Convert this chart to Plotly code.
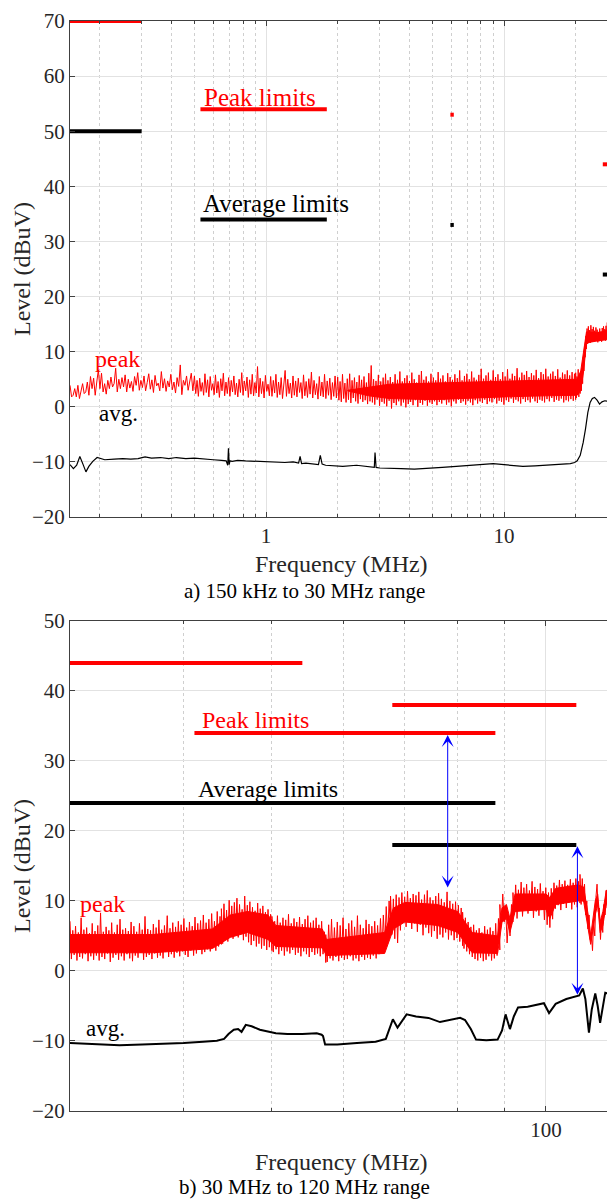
import numpy as np
import plotly.graph_objects as go

FONT = "Liberation Serif"
RED = "#ff0000"
BLUE = "#0000ff"

# ---------------- a) 150 kHz to 30 MHz ----------------
# peak detector levels (dBuV), one list per sweep segment
peak_a_edges = [0.15, 0.5, 2.0, 20.0, 28.7]
peak_a1 = [3.9, 1.8, 2.1, 3.3, 1.8, 3.9, 1.5, 3.0, 4.2, 2.4, 2.7, 4.5, 2.1, 5.5, 3.3, 5.2, 2.1, 4.5, 6.7, 3.3,
           6.1, 2.7, 4.2, 2.3, 4.8, 3.3, 5.4, 3.6, 4.2, 7.0, 2.7, 5.0, 3.3, 5.3, 3.6, 5.8, 2.7, 5.0, 3.4, 4.6,
           2.8, 5.5, 3.9, 6.2, 3.0, 4.8, 3.5, 5.6, 2.9, 4.4, 6.0, 3.2, 4.9, 2.6, 5.7, 3.8, 4.3, 2.9, 6.4, 3.4,
           5.1, 2.8, 4.7, 3.6, 5.9, 3.1, 4.5, 2.5, 5.3, 3.7, 7.6, 2.2, 4.8, 3.9, 5.6, 3.0, 4.4, 6.1, 2.9, 4.9]
peak_a2 = [5.6, 2.4, 4.8, 1.9, 5.2, 2.8, 4.4, 2.1, 6.0, 2.6, 4.9, 1.8, 5.5, 3.0, 4.2, 2.2, 5.8, 2.5, 4.6, 1.7,
           5.1, 2.9, 6.1, 2.0, 4.5, 2.4, 5.3, 1.9, 4.8, 2.7, 5.6, 2.2, 4.3, 1.8, 5.0, 2.6, 6.2, 2.1, 4.7, 2.9,
           5.4, 1.7, 4.9, 2.3, 5.9, 2.0, 4.4, 2.5, 7.3, 1.8, 5.2, 2.4, 4.6, 1.6, 5.7, 2.8, 4.1, 2.0, 5.5, 1.9,
           4.8, 2.5, 5.9, 1.7, 4.5, 2.2, 5.3, 1.5, 4.9, 6.6, 1.9, 5.0, 2.4, 4.3, 1.6, 5.6, 2.1, 4.7, 1.8, 5.2,
           2.6, 4.4, 1.5, 5.8, 2.0, 4.6, 1.7, 5.1, 2.3, 6.3, 1.6, 4.8, 2.2, 4.2, 1.4, 5.5, 2.0, 4.5, 1.8, 5.9,
           1.5, 4.7, 2.1, 5.2, 1.3, 4.4, 1.9, 5.6, 1.6, 4.9]
peak_a3 = [5.4, 1.2, 4.6, 0.9, 5.9, 1.5, 4.3, 0.8, 5.1, 1.3, 6.0, 0.7, 4.8, 1.6, 5.3, 1.0, 4.5, 0.6, 5.7, 1.4,
           4.9, 0.9, 5.5, 1.2, 4.4, 0.5, 6.1, 1.0, 7.5, 0.8, 5.0, 0.4, 4.7, 1.3, 5.8, 0.2, 4.6, 0.9, 5.3, 0.6,
           6.0, 0.1, 4.8, 1.1, 5.4, -0.3, 4.5, 0.7, 5.9, 0.3, 4.9, 1.0, 6.4, 0.2, 4.6, 0.8, 5.2, -0.1, 5.7, 0.5,
           4.7, 0.9, 6.2, 0.3, 5.0, 1.2, 4.4, 0.0, 5.8, 0.7, 6.5, 0.4, 4.9, 1.1, 5.5, 0.2, 4.6, 0.8, 6.0, 0.5,
           5.3, 1.0, 4.8, 0.3, 6.3, 0.9, 5.1, 0.6, 5.7, 1.2, 4.6, 0.4, 6.1, 0.8, 5.4, 0.1, 4.9, 1.0, 5.9, 0.6,
           5.2, 1.3, 6.6, 0.7, 4.8, 1.0, 5.6, 0.4, 6.0, 1.1, 5.0, 0.8, 6.4, 0.3, 5.3, 1.2, 4.9, 0.6, 5.8, 1.0,
           6.9, 0.7, 5.1, 1.3, 5.7, 0.5, 6.2, 1.0, 4.9, 0.8, 6.6, 1.4, 5.4, 0.6, 5.9, 1.1, 5.0, 0.9, 6.3, 0.4,
           5.5, 1.2, 6.8, 0.9, 5.1, 1.5, 6.0, 0.7, 5.6, 1.3, 7.0, 1.0, 5.3, 0.6, 6.2, 1.4, 5.8, 0.9, 6.5, 1.2,
           5.4, 0.8, 6.1, 1.5, 5.7, 1.0, 6.7, 0.7, 5.2, 1.3, 6.3, 1.1, 5.9, 0.8, 6.9, 1.4, 5.5, 1.0, 6.0, 1.6,
           6.4, 0.9, 5.6, 1.3, 6.8, 1.1, 5.3, 1.5, 6.2, 0.8, 5.9, 1.2, 6.6, 1.0, 5.7, 1.4, 6.3, 1.1, 6.0, 1.3]
peak_a4 = [6.2, 1.6, 5.5, 2.2, 6.8, 1.8, 5.9, 2.4, 6.5, 2.9, 7.0, 4.2, 9.0, 6.5, 11.0, 9.0, 12.8, 10.5, 14.2, 11.4,
           14.6, 12.0, 13.9, 11.6, 14.8, 12.3, 14.1, 11.8, 14.5, 12.5, 13.8, 12.0, 14.4, 12.6, 14.0, 11.7, 13.6, 11.9, 14.2, 12.4,
           13.7, 11.8, 14.3, 12.2, 14.6, 12.6, 14.1, 12.0, 14.7, 12.3, 15.3, 12.5, 14.8, 11.0, 13.5, 9.0, 10.5, 6.5, 5.0, 2.8]

# solid core of the peak trace where the sweep is dense
core_a_f = [2.2, 2.7, 3.3, 5.0, 10.0, 15.0, 20.3, 21.0, 21.6, 22.2, 25.0, 27.4, 28.0, 28.4]
core_a_lo = [2.9, 2.0, 1.5, 1.3, 1.8, 2.0, 2.1, 3.0, 6.5, 11.6, 12.0, 12.2, 9.5, 5.0]
core_a_hi = [3.0, 3.6, 4.1, 4.3, 4.6, 4.8, 5.0, 6.5, 10.0, 13.6, 13.4, 14.0, 12.0, 7.5]

# average detector
avg_a_f = [0.150, 0.155, 0.160, 0.165, 0.170, 0.175, 0.180, 0.187, 0.195, 0.21, 0.23, 0.25, 0.27, 0.29, 0.31,
           0.33, 0.36, 0.39, 0.42, 0.46, 0.50, 0.55, 0.60, 0.65, 0.68, 0.69, 0.695, 0.70, 0.705, 0.72, 0.76,
           0.82, 0.90, 1.0, 1.1, 1.2, 1.3, 1.37, 1.39, 1.41, 1.47, 1.52, 1.60, 1.66, 1.69, 1.72, 1.78, 1.9, 2.1,
           2.4, 2.7, 2.85, 2.87, 2.90, 3.0, 3.3, 3.7, 4.2, 4.8, 5.5, 6.3, 7.2, 8.2, 9.0, 10.0, 11.0, 12.0, 13.5,
           15.0, 16.5, 18.0, 19.0, 19.8, 20.3, 20.9, 21.5, 22.0, 22.5, 23.0, 23.5, 24.0, 24.6, 25.2, 25.8, 26.5,
           27.3, 27.7, 28.0, 28.3, 28.7]
avg_a = [-10.5, -11.2, -10.6, -9.0, -10.4, -11.8, -10.8, -9.9, -9.2, -9.6, -9.5, -9.4, -9.5, -9.4, -9.1,
         -9.3, -9.2, -9.4, -9.2, -9.4, -9.3, -9.5, -9.6, -9.7, -9.8, -10.6, -7.5, -10.5, -9.8, -9.9, -9.7,
         -9.8, -9.9, -10.0, -10.0, -10.1, -10.0, -10.2, -9.0, -10.3, -10.2, -10.3, -10.4, -10.5, -8.8, -10.4,
         -10.6, -10.7, -10.8, -10.6, -10.9, -11.0, -8.3, -11.0, -11.1, -11.2, -11.2, -11.3, -11.2, -11.0,
         -10.8, -10.6, -10.4, -10.3, -10.5, -10.7, -10.8, -10.7, -10.6, -10.4, -10.4, -10.3, -10.1, -9.8,
         -8.8, -6.5, -4.0, -1.0, 0.8, 1.5, 1.7, 1.2, 0.5, 0.9, 1.1, 1.0, -1.0, -4.5, -7.0, -9.0]

# limit lines: start freq, stop freq, level
lim_a_f0 = [0.15, 0.53, 5.95, 26.0]
lim_a_f1 = [0.30, 1.80, 6.15, 27.8]
lim_a_peak = [70, 54, 53, 44]
lim_a_avg = [50, 34, 33, 24]

# ---------------- b) 30 MHz to 120 MHz ----------------
peak_b_edges = [30, 44, 50, 57.3, 67.5, 81, 89, 92, 109, 118.5]
peak_b1 = [7.1, 1.7, 5.8, 2.3, 6.4, 1.5, 5.5, 2.0, 7.6, 1.8, 5.9, 2.4, 6.2, 1.4, 5.4, 2.1, 6.8, 1.6, 5.7, 2.2,
           6.5, 1.5, 8.3, 2.0, 5.6, 1.7, 6.3, 2.5, 5.8, 1.3, 6.9, 1.9, 5.5, 2.3, 6.6, 1.6, 7.4, 2.1, 5.9, 1.5,
           6.1, 2.4, 5.7, 1.8, 7.0, 1.4, 6.4, 2.2, 5.6, 1.9, 6.8, 2.6, 5.9, 1.6, 7.8, 2.0, 6.0, 2.3, 5.8, 1.7,
           6.7, 2.5, 6.2, 1.9, 7.3, 2.2, 5.9, 1.8, 6.5, 2.7, 7.9, 2.0, 6.1, 2.4, 6.9, 1.9, 6.3, 2.6, 7.1, 2.1,
           6.6, 2.8, 7.5, 2.3, 6.2, 2.0, 7.0, 2.9, 6.4, 2.2, 7.7, 2.5, 6.8, 3.0, 7.2, 2.4, 8.0, 2.7, 6.9, 3.1,
           7.4, 2.8, 8.2, 3.3, 7.1, 2.9, 8.5, 3.5, 7.8, 3.8]
peak_b2 = [8.9, 3.9, 9.6, 4.5, 8.7, 4.2, 10.1, 5.0, 9.3, 4.6, 9.8, 5.3, 10.4, 4.8, 9.5, 5.5, 8.8, 4.4, 10.7, 4.9,
           9.4, 4.1, 9.9, 3.7, 9.1, 4.3, 8.6, 3.5, 9.7, 3.9, 8.9, 3.2, 9.3, 3.6, 8.4, 3.0, 8.8, 3.4, 8.1, 2.9]
peak_b3 = [7.8, 2.7, 7.1, 3.1, 7.9, 2.4, 6.9, 2.9, 7.6, 2.2, 7.3, 2.8, 8.1, 2.5, 6.8, 3.0, 7.5, 2.3, 7.0, 2.6,
           7.7, 2.1, 6.7, 2.8, 7.4, 2.4, 7.9, 2.0, 6.9, 2.7, 7.2, 2.3, 7.6, 2.5, 6.6, 2.1, 7.1, 2.4, 5.6, 1.2]
peak_b4 = [5.2, 1.3, 6.6, 1.8, 7.4, 1.5, 6.2, 2.0, 7.0, 1.4, 6.5, 1.9, 7.6, 1.6, 6.0, 1.7, 6.8, 2.1, 7.2, 1.5,
           6.3, 1.8, 7.9, 1.4, 6.6, 2.0, 6.1, 1.6, 7.3, 1.9, 6.7, 1.7, 6.4, 2.2, 7.1, 1.8, 6.5, 2.4, 7.5, 2.6,
           8.0, 3.5, 9.2, 4.5, 10.0, 5.5]
peak_b5 = [10.7, 5.2, 10.3, 4.6, 10.9, 4.0, 10.5, 5.8, 11.2, 6.9, 10.6, 6.3, 11.4, 7.2, 10.4, 6.0, 11.0, 6.8, 10.8, 5.6,
           11.3, 6.6, 10.2, 5.1, 10.9, 6.2, 11.5, 5.4, 10.5, 4.9, 10.1, 5.7, 10.7, 4.6, 11.1, 5.2, 10.3, 4.8, 9.8, 5.5,
           11.3, 4.5, 10.0, 5.1, 9.6, 4.4, 9.9, 4.7, 9.4, 4.2, 9.0, 3.6]
peak_b6 = [8.4, 3.2, 7.6, 2.8, 7.0, 2.4, 6.3, 2.0, 6.6, 1.7, 5.8, 1.5, 6.1, 1.9, 5.5, 1.4, 6.4, 1.6, 5.9, 2.1,
           6.2, 1.5, 5.7, 1.8, 6.8, 2.2, 7.5, 3.0]
peak_b7 = [9.5, 6.5, 11.0, 7.0, 9.0, 4.0, 7.5, 5.0, 9.5, 7.0]
peak_b8 = [11.2, 8.1, 12.3, 7.5, 11.6, 8.6, 12.7, 7.8, 11.9, 8.9, 12.4, 8.2, 11.5, 9.2, 12.8, 7.6, 12.0, 8.5, 11.7, 7.9,
           12.5, 8.8, 11.4, 7.3, 11.9, 6.6, 11.2, 6.2, 11.8, 7.4, 12.6, 8.9, 12.2, 9.4, 13.0, 8.7, 12.4, 9.6, 12.9, 9.0,
           12.3, 9.8, 13.1, 8.8, 12.6, 9.5, 13.2, 9.1, 12.8, 9.7]
peak_b9 = [13.8, 9.5, 13.2, 9.9, 12.4, 8.0, 10.0, 6.0, 8.0, 4.5, 5.5, 2.9, 7.0, 5.0, 10.5, 12.4, 8.5, 9.0, 4.5, 7.5,
           5.5, 9.5, 8.0, 11.5, 9.0, 12.8, 8.9, 13.3, 9.2, 12.6]

core_b_f = [30, 37, 43, 45, 47, 49.5, 50.5, 56.8, 57.4, 66.5, 68, 70, 76, 80, 81.5, 83, 88.5, 89.5, 90.5,
            91.3, 92.5, 100, 101, 102.5, 108.5, 110, 111.3, 112, 113.3, 114, 114.7, 115.5, 116.5, 118.5]
core_b_lo = [2.6, 2.6, 3.2, 4.8, 5.5, 4.5, 3.5, 3.3, 2.2, 2.5, 6.0, 7.0, 6.5, 5.5, 4.0, 2.6, 2.5, 7.0, 7.5,
             5.5, 8.5, 8.8, 7.5, 9.5, 10.0, 10.0, 6.0, 3.8, 8.0, 9.5, 5.5, 6.5, 9.5, 10.0]
core_b_hi = [5.2, 5.2, 6.0, 8.0, 8.5, 8.0, 6.5, 6.0, 4.5, 5.5, 9.0, 9.8, 9.5, 8.5, 7.0, 5.5, 5.0, 9.0, 9.5,
             7.5, 11.0, 11.0, 10.5, 11.8, 12.3, 12.0, 8.0, 5.0, 10.0, 11.0, 7.0, 8.5, 11.5, 12.0]

avg_b_f = [30, 32, 34, 36, 38, 40, 42, 43.5, 44.3, 44.8, 45.4, 45.9, 46.3, 46.8, 47.5, 48.5, 50.5, 52, 54, 56,
           56.7, 56.9, 57.2, 59, 62, 65, 66.7, 67.3, 67.9, 68.7, 69.5, 70.3, 72, 74.3, 76.5, 78.5, 80.5, 81.5,
           82.7, 83.8, 86, 88.5, 89.5, 90.3, 91.3, 92.2, 93.2, 95.5, 98, 99.5, 100.8, 102.5, 105.3, 107.5,
           108.8, 109.8, 110.5, 111.5, 112.3, 113.3, 114.0, 114.7, 115.5, 116.2, 117.5, 118.5]
avg_b = [-10.3, -10.5, -10.6, -10.5, -10.4, -10.3, -10.1, -9.95, -9.7, -9.0, -8.4, -8.3, -8.7, -7.7, -7.9, -8.4,
         -8.9, -9.0, -9.0, -8.9, -9.1, -9.3, -10.5, -10.5, -10.3, -10.1, -9.7, -8.3, -6.9, -8.1, -7.2, -6.2,
         -6.5, -6.7, -7.3, -7.0, -6.7, -7.0, -8.3, -9.8, -9.9, -9.8, -8.5, -6.2, -8.3, -6.5, -5.2, -5.1,
         -4.8, -4.6, -6.0, -4.7, -4.0, -3.7, -3.5, -2.5, -4.0, -8.8, -5.5, -3.2, -5.0, -7.4, -5.0, -3.1,
         -3.3, -3.4]

lim_b_peak_f0 = [30.0, 67.8, 41.1]
lim_b_peak_f1 = [54.0, 108.0, 88.0]
lim_b_peak = [44, 38, 34]
lim_b_avg_f0 = [30.0, 67.8]
lim_b_avg_f1 = [88.0, 108.0]
lim_b_avg = [24, 18]

# margin arrows (limit -> measured level)
arrow_f = [78.0, 108.3]
arrow_top = [33.7, 17.8]
arrow_bot = [11.7, -3.6]


def sweep(edges, segments):
    f, v = [], []
    for i, seg in enumerate(segments):
        f += list(np.geomspace(edges[i], edges[i + 1], len(seg)))
        v += seg
    return f, v


def steps(f0, f1, lev):
    x, y = [], []
    for a, b, l in zip(f0, f1, lev):
        x += [a, b, None]
        y += [l, l, None]
    return x, y


def band(f, lo, hi, xa, ya):
    return go.Scatter(x=list(f) + list(f)[::-1], y=list(hi) + list(lo)[::-1], fill="toself",
                      fillcolor=RED, mode="lines", line=dict(color=RED, width=1),
                      xaxis=xa, yaxis=ya, hoverinfo="skip")


fa, pa = sweep(peak_a_edges, [peak_a1, peak_a2, peak_a3, peak_a4])
fb, pb = sweep(peak_b_edges, [peak_b1, peak_b2, peak_b3, peak_b4, peak_b5,
                              peak_b6, peak_b7, peak_b8, peak_b9])

fig = go.Figure()

fig.add_trace(band(core_a_f, core_a_lo, core_a_hi, "x", "y"))
fig.add_trace(go.Scatter(x=fa, y=pa, mode="lines", line=dict(color=RED, width=1),
                         xaxis="x", yaxis="y"))
fig.add_trace(go.Scatter(x=avg_a_f, y=avg_a, mode="lines", line=dict(color="black", width=1.2),
                         xaxis="x", yaxis="y"))
x, y = steps(lim_a_f0, lim_a_f1, lim_a_peak)
fig.add_trace(go.Scatter(x=x, y=y, mode="lines", line=dict(color=RED, width=4), xaxis="x", yaxis="y"))
x, y = steps(lim_a_f0, lim_a_f1, lim_a_avg)
fig.add_trace(go.Scatter(x=x, y=y, mode="lines", line=dict(color="black", width=4), xaxis="x", yaxis="y"))

fig.add_trace(band(core_b_f, core_b_lo, core_b_hi, "x2", "y2"))
fig.add_trace(go.Scatter(x=fb, y=pb, mode="lines", line=dict(color=RED, width=1),
                         xaxis="x2", yaxis="y2"))
fig.add_trace(go.Scatter(x=avg_b_f, y=avg_b, mode="lines", line=dict(color="black", width=2),
                         xaxis="x2", yaxis="y2"))
x, y = steps(lim_b_peak_f0, lim_b_peak_f1, lim_b_peak)
fig.add_trace(go.Scatter(x=x, y=y, mode="lines", line=dict(color=RED, width=4), xaxis="x2", yaxis="y2"))
x, y = steps(lim_b_avg_f0, lim_b_avg_f1, lim_b_avg)
fig.add_trace(go.Scatter(x=x, y=y, mode="lines", line=dict(color="black", width=4), xaxis="x2", yaxis="y2"))

axis_common = dict(showline=True, linecolor="#404040", linewidth=1, mirror="ticks",
                   ticks="inside", ticklen=5, tickcolor="#404040",
                   gridcolor="#e2e2e2", gridwidth=1, zeroline=False,
                   tickfont=dict(family=FONT, size=21, color="#262626"))

minor_a = [0.2, 0.3, 0.4, 0.5, 0.6, 0.7, 0.8, 0.9, 2, 3, 4, 5, 6, 7, 8, 9, 20]
minor_b = [40, 50, 60, 70, 80, 90]

# the page body adds an 8 px offset, so the figure is 8 px smaller than the window
fig.update_layout(
    width=607, height=1194,
    margin=dict(l=62, r=1, t=11, b=91),
    paper_bgcolor="white", plot_bgcolor="white",
    showlegend=False,
    xaxis=dict(type="log", range=[np.log10(0.15), np.log10(28.7)], domain=[0, 1], anchor="y",
               tickvals=[1, 10], ticktext=["1", "10"],
               minor=dict(tickvals=minor_a, showgrid=True, griddash="dot", gridcolor="#cfcfcf",
                          ticks="inside", ticklen=3, tickcolor="#404040"),
               **axis_common),
    yaxis=dict(range=[-20, 70], dtick=10, domain=[0.5449, 1], anchor="x", **axis_common),
    xaxis2=dict(type="log", range=[np.log10(30), np.log10(118.5)], domain=[0, 1], anchor="y2",
                tickvals=[100], ticktext=["100"],
                minor=dict(tickvals=minor_b, showgrid=True, griddash="dot", gridcolor="#cfcfcf",
                           ticks="inside", ticklen=3, tickcolor="#404040"),
                **axis_common),
    yaxis2=dict(range=[-20, 50], dtick=10, domain=[0, 0.4496], anchor="x2", **axis_common),
)

ann = []


def label(text, f, lev, color, xr, yr, size=25):
    ann.append(dict(text=text, x=np.log10(f), y=lev, xref=xr, yref=yr, showarrow=False,
                    font=dict(family=FONT, size=size, color=color)))


label("Peak limits", 0.94, 56.2, RED, "x", "y")
label("Average limits", 1.10, 36.8, "black", "x", "y")
label("peak", 0.238, 8.6, RED, "x", "y", 24)
label("avg.", 0.24, -1.2, "black", "x", "y", 23)
label("Peak limits", 48.0, 35.9, RED, "x2", "y2", 24)
label("Average limits", 49.5, 26.0, "black", "x2", "y2", 24)
label("peak", 32.6, 9.6, RED, "x2", "y2", 24)
label("avg.", 32.8, -8.2, "black", "x2", "y2", 23)

for xa, ya, cap, s1, s2 in [("x", "y", "a) 150 kHz to 30 MHz range", -47, -74),
                            ("x2", "y2", "b) 30 MHz to 120 MHz range", -51, -76)]:
    ann.append(dict(text="Frequency (MHz)", xref=xa + " domain", yref=ya + " domain", x=0.5, y=0,
                    yshift=s1, yanchor="middle", showarrow=False,
                    font=dict(family=FONT, size=24, color="#262626")))
    ann.append(dict(text="Level (dBuV)", xref=xa + " domain", yref=ya + " domain", x=0, y=0.5,
                    xshift=-48, xanchor="center", yanchor="middle", textangle=-90, showarrow=False,
                    font=dict(family=FONT, size=24, color="#262626")))
    ann.append(dict(text=cap, xref="paper", yref=ya + " domain", x=(305 - 70) / 544, y=0,
                    yshift=s2, yanchor="middle", showarrow=False,
                    font=dict(family=FONT, size=21, color="black")))

for f, top, bot in zip(arrow_f, arrow_top, arrow_bot):
    ann.append(dict(x=np.log10(f), y=top, ax=np.log10(f), ay=bot, xref="x2", yref="y2",
                    axref="x2", ayref="y2", text="", showarrow=True,
                    arrowhead=3, startarrowhead=3, arrowside="end+start",
                    arrowsize=2, startarrowsize=2, arrowwidth=1, arrowcolor=BLUE))

fig.update_layout(annotations=ann)

fig.write_html("out.html")
